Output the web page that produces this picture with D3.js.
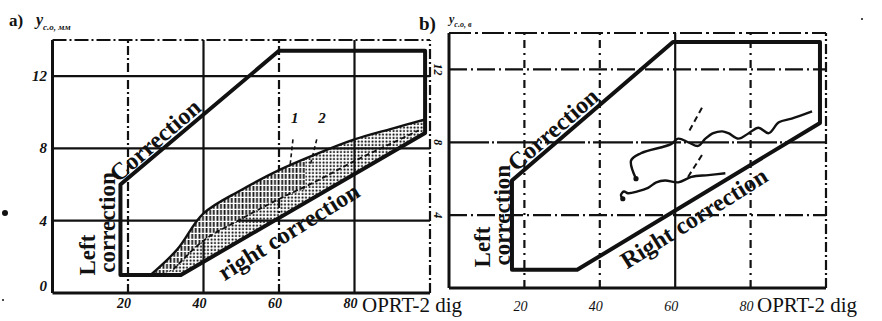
<!DOCTYPE html>
<html><head><meta charset="utf-8">
<script src="https://cdn.jsdelivr.net/npm/d3@7"></script>
<style>
html,body{margin:0;padding:0;background:#fff;}
svg{display:block;}
text{font-family:"Liberation Serif","DejaVu Serif",serif;fill:#111;}
</style></head>
<body>
<svg id="chart" width="882" height="321"></svg>
<script>
// ---------- data ----------
const xTicks = [20, 40, 60, 80];
const yTicks = [0, 4, 8, 12];
const xTickLabels = ["20", "40", "60", "80"];
const yTickLabels = ["0", "4", "8", "12"];
const xAxisTitle = "OPRT-2 dig";

// panel a
const outlineA = [[18,1],[18,6],[60,13.4],[98.7,13.4],[98.7,8.85],[34,1]];
const bandUpperA = [[26,1],[33,2.4],[40,4.4],[50,5.7],[60,6.8],[70,7.7],[80,8.5],[90,9.1],[98.7,9.6]];
const curve2A = [[32,1.3],[40,2.9],[50,4.1],[60,5.2],[70,6.2],[80,7.3],[90,8.3],[97,9.0]];
const leadersA = [{label:"1", from:[63.7,8.5], to:[62.9,7.0], at:[64.2,9.4]},
                  {label:"2", from:[70.0,8.5], to:[68.2,7.0], at:[71.4,9.4]}];

// panel b
const outlineB = [[16.7,1],[16.7,5.9],[59.4,13.5],[98.4,13.5],[98.4,9.06],[34,1]];
const curve1B = [[49.6,6.0],[48.3,7.0],[50.9,7.4],[58.9,7.9],[60.8,8.2],[63.5,8.0],[66.1,7.8],[68.0,8.2],[70.1,8.5],[72.5,8.6],[74.1,8.5],[76.8,8.2],[79.5,8.5],[82.1,8.8],[84.8,8.5],[87.5,9.1],[90.9,9.3],[96.3,9.7]];
const curve2B = [[46.1,4.9],[45.6,5.1],[46.4,5.3],[47.5,5.2],[50,5.3],[52.8,5.5],[55,5.8],[57.3,5.9],[60.8,5.8],[64.3,6.1],[68.8,6.2],[73.3,6.3]];
const leadersB = [{from:[67.1,9.9], to:[63.4,8.5]}, {from:[67.1,7.3], to:[63.1,6.0]}];

// ---------- drawing ----------
const svg = d3.select("#chart");
const ink = "#111";

const defs = svg.append("defs");
const hatch = defs.append("pattern").attr("id","hatch").attr("patternUnits","userSpaceOnUse")
  .attr("width",3.6).attr("height",6);
hatch.append("rect").attr("width",3.6).attr("height",6).attr("fill","#fff");
hatch.append("line").attr("x1",1.4).attr("x2",1.4).attr("y1",0).attr("y2",4.8)
  .attr("stroke",ink).attr("stroke-width",1.8);
const dots = defs.append("pattern").attr("id","dots").attr("patternUnits","userSpaceOnUse")
  .attr("width",3.5).attr("height",3.5);
dots.append("circle").attr("cx",1.5).attr("cy",1.5).attr("r",1.05).attr("fill",ink);

function panel(cfg){
  const g = svg.append("g");
  const x = d3.scaleLinear().domain([0,100]).range(cfg.xr);
  const y = d3.scaleLinear().domain([0,14]).range(cfg.yr);
  const [x0,x1] = cfg.xr, [y0,y1] = cfg.yr;

  yTicks.filter(t=>t>0).forEach(t=>{
    g.append("line").attr("x1",x0).attr("x2",x1).attr("y1",y(t)).attr("y2",y(t))
      .attr("stroke",ink).attr("stroke-width",2.2)
      .attr("stroke-dasharray", cfg.hDash(t));
  });
  xTicks.forEach(t=>{
    g.append("line").attr("x1",x(t)).attr("x2",x(t)).attr("y1",y0).attr("y2",y1)
      .attr("stroke",ink).attr("stroke-width",2.2)
      .attr("stroke-dasharray", cfg.vDash(t));
  });
  g.append("line").attr("x1",x0).attr("x2",x0).attr("y1",y0).attr("y2",y1).attr("stroke",ink).attr("stroke-width",3);
  g.append("line").attr("x1",x0).attr("x2",x1).attr("y1",y0).attr("y2",y0).attr("stroke",ink).attr("stroke-width",3);
  g.append("line").attr("x1",x0).attr("x2",x1).attr("y1",y1).attr("y2",y1).attr("stroke",ink).attr("stroke-width",2.2).attr("stroke-dasharray",cfg.topDash);
  g.append("line").attr("x1",x1).attr("x2",x1).attr("y1",y0).attr("y2",y1).attr("stroke",ink).attr("stroke-width",2.2).attr("stroke-dasharray","10 3 2 3");

  return {g,x,y};
}

const A = panel({xr:[52.5,430], yr:[293,40],
  hDash: t => null,
  vDash: t => (t===20||t===60) ? "9 3 2 3" : null,
  topDash: "14 3 2 3"});
const B = panel({xr:[449,826], yr:[288,33],
  hDash: t => t===8 ? "40 3 2 3" : "18 4 2 4",
  vDash: t => t===60 ? null : "8 5 2 5",
  topDash: "22 4 3 4"});

// ---- panel a band ----
{
  const {g,x,y} = A;
  const line = d3.line().x(d=>x(d[0])).y(d=>y(d[1])).curve(d3.curveLinear);
  const smooth = d3.line().x(d=>x(d[0])).y(d=>y(d[1])).curve(d3.curveCatmullRom);
  const bandPts = bandUpperA.concat([[98.7,8.85],[34,1]]);
  defs.append("clipPath").attr("id","bandClip").append("path").attr("d", smooth(bandUpperA)+"L"+x(98.7)+","+y(8.85)+"L"+x(34)+","+y(1)+"Z");
  const bg = g.append("g").attr("clip-path","url(#bandClip)");
  bg.append("rect").attr("x",x(20)).attr("y",y(11)).attr("width",x(100)-x(20)).attr("height",y(0)-y(11)).attr("fill","url(#dots)");
  defs.append("clipPath").attr("id","leftClip").append("rect")
    .attr("x",x(0)).attr("y",y(14)).attr("width",x(67)-x(0)).attr("height",y(0)-y(14));
  const hatchPts = bandUpperA.filter(d=>d[0]<=70).concat(curve2A.filter(d=>d[0]<=70).slice().reverse()).concat([[28,1]]);
  bg.append("g").attr("clip-path","url(#leftClip)").append("path")
    .attr("d", smooth(hatchPts)+"Z").attr("fill","url(#hatch)");
  g.append("path").attr("d", smooth(bandUpperA)).attr("fill","none").attr("stroke",ink).attr("stroke-width",2.4);
  g.append("path").attr("d", smooth(curve2A)).attr("fill","none").attr("stroke",ink).attr("stroke-width",1.8).attr("stroke-dasharray","5 3");
  g.append("path").attr("d", line(outlineA)+"Z").attr("fill","none").attr("stroke",ink)
    .attr("stroke-width",4).attr("stroke-linejoin","round");
  leadersA.forEach(l=>{
    g.append("line").attr("x1",x(l.from[0])).attr("y1",y(l.from[1])).attr("x2",x(l.to[0])).attr("y2",y(l.to[1]))
      .attr("stroke",ink).attr("stroke-width",1.6).attr("stroke-dasharray","4 3");
    g.append("text").attr("x",x(l.at[0])).attr("y",y(l.at[1])).attr("text-anchor","middle")
      .attr("font-size",15).attr("font-style","italic").attr("font-weight","bold").text(l.label);
  });
}

// ---- panel b curves ----
{
  const {g,x,y} = B;
  const line = d3.line().x(d=>x(d[0])).y(d=>y(d[1]));
  const smooth = d3.line().x(d=>x(d[0])).y(d=>y(d[1])).curve(d3.curveCatmullRom);
  g.append("path").attr("d", line(outlineB)+"Z").attr("fill","none").attr("stroke",ink)
    .attr("stroke-width",4).attr("stroke-linejoin","round");
  [curve1B, curve2B].forEach(c=>{
    g.append("path").attr("d", smooth(c)).attr("fill","none").attr("stroke",ink).attr("stroke-width",2.4);
    g.append("circle").attr("cx",x(c[0][0])).attr("cy",y(c[0][1])).attr("r",2.6).attr("fill",ink);
  });
  leadersB.forEach(l=>{
    g.append("line").attr("x1",x(l.from[0])).attr("y1",y(l.from[1])).attr("x2",x(l.to[0])).attr("y2",y(l.to[1]))
      .attr("stroke",ink).attr("stroke-width",2).attr("stroke-dasharray","6 4");
  });
}

// ---- texts ----
function rotText(P, dx, dy, ang, size, str){
  P.g.append("text").attr("transform",`translate(${P.x(dx)},${P.y(dy)}) rotate(${ang})`)
    .attr("text-anchor","middle").attr("dominant-baseline","central")
    .attr("font-size",size).attr("font-weight","bold").text(str);
}
rotText(A, 27.2, 8.45, -41, 24, "Correction");
rotText(A, 9.4, 2.1, -90, 23, "Left");
rotText(A, 14.7, 3.9, -90, 23, "correction");
rotText(A, 62.6, 3.4, -32, 24, "right correction");
rotText(B, 27.6, 8.7, -41, 24, "Correction");
rotText(B, 8.8, 2.25, -90, 23, "Left");
rotText(B, 14.1, 4.0, -90, 23, "correction");
rotText(B, 65, 3.84, -32, 24, "Right correction");

[[A,303,"bold"],[B,306,"normal"]].forEach(([P,ty,fw])=>{
  xTicks.forEach((t,i)=>{
    P.g.append("text").attr("x",P.x(t)-4).attr("y",ty).attr("text-anchor","middle")
      .attr("dominant-baseline","central").attr("font-size",14).attr("font-style","italic")
      .attr("font-weight",fw).text(xTickLabels[i]);
  });
});
yTicks.forEach((t,i)=>{
  A.g.append("text").attr("x",47).attr("y",A.y(t) - (t===0?7:0)).attr("text-anchor","end")
    .attr("dominant-baseline","central").attr("font-size",15).attr("font-style","italic")
    .attr("font-weight","bold").text(yTickLabels[i]);
  if (t>0) B.g.append("text").attr("transform",`translate(438,${B.y(t)}) rotate(90)`)
    .attr("text-anchor","middle").attr("dominant-baseline","central").attr("font-size",12)
    .attr("font-style","italic").attr("font-weight","bold").text(yTickLabels[i]);
});

svg.append("text").attr("x",362).attr("y",312).attr("font-size",21).text(xAxisTitle);
svg.append("text").attr("x",757).attr("y",312).attr("font-size",21).text(xAxisTitle);

svg.append("text").attr("x",9).attr("y",26).attr("font-size",17).attr("font-weight","bold").text("a)");
const ya = svg.append("text").attr("x",36).attr("y",25).attr("font-size",16).attr("font-style","italic").attr("font-weight","bold");
ya.append("tspan").text("y");
ya.append("tspan").attr("dy",5).attr("font-size",9).text("с.о, мм");
svg.append("text").attr("x",419).attr("y",30).attr("font-size",19).attr("font-weight","bold").text("b)");
const yb = svg.append("text").attr("x",449).attr("y",23).attr("font-size",12).attr("font-style","italic").attr("font-weight","bold");
yb.append("tspan").text("y");
yb.append("tspan").attr("dy",4).attr("font-size",8).text("с.о, в");

svg.append("circle").attr("cx",5).attr("cy",213).attr("r",3).attr("fill",ink);
svg.append("circle").attr("cx",3).attr("cy",300).attr("r",1).attr("fill",ink);
svg.append("circle").attr("cx",862).attr("cy",19).attr("r",1).attr("fill",ink);
</script>
</body></html>
